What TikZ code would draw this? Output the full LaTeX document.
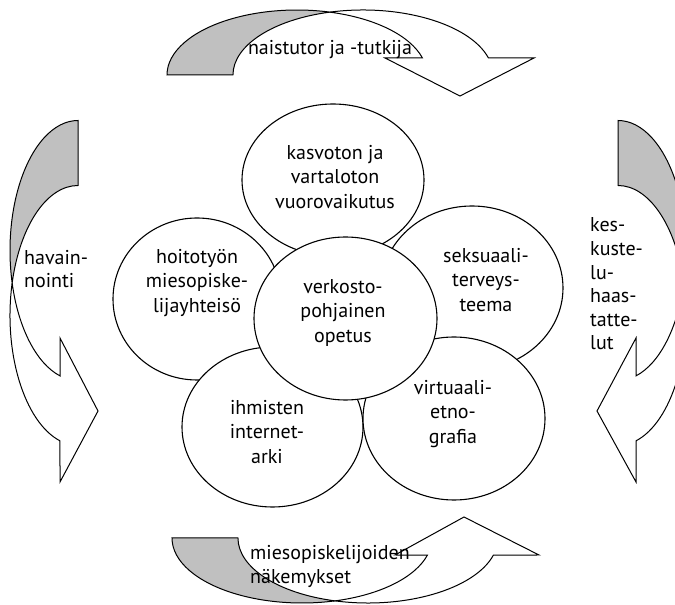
\documentclass[tikz,border=0pt]{standalone}
\usepackage{fontspec}
\setmainfont{PT Sans}
\definecolor{backgray}{RGB}{192,192,192}
\tikzset{
  bubble/.style={draw, fill=white, line width=1.1pt},
  arrowback/.style={draw, fill=backgray, line width=1pt},
  arrowfront/.style={draw, fill=white, line width=1pt},
  bubbletext/.style={align=center, inner sep=0pt, font=\fontsize{20}{24.5}\selectfont},
  sidetext/.style={align=left, inner sep=0pt, font=\fontsize{20}{23.6}\selectfont}
}
\begin{document}
\begin{tikzpicture}[x=1pt,y=1pt]
    \clip (0,0) rectangle (675,605);

    \draw[arrowback] (167,530) arc[start angle=180, end angle=75.3, x radius=130, y radius=65]
        arc[start angle=104.7, end angle=180, x radius=130, y radius=65] -- cycle;
    \draw[arrowfront] (330,592.87) arc[start angle=104.7, end angle=15.2, x radius=130, y radius=65]
        -- (534,547) -- (460,509) -- (385,547) -- (422.45,547)
        arc[start angle=15.2, end angle=75.3, x radius=130, y radius=65] -- cycle;

    \draw[arrowback] (172,67) arc[start angle=180, end angle=284.7, x radius=130, y radius=65]
        arc[start angle=255.3, end angle=180, x radius=130, y radius=65] -- cycle;
    \draw[arrowfront] (335,4.13) arc[start angle=255.3, end angle=344.8, x radius=130, y radius=65]
        -- (539,50) -- (464,88) -- (395,50) -- (427.45,49.95)
        arc[start angle=344.8, end angle=284.7, x radius=130, y radius=65] -- cycle;

    \draw[arrowback] (78,484.5) arc[start angle=90, end angle=194.48, x radius=68, y radius=130]
        arc[start angle=165.52, end angle=90, x radius=68, y radius=130] -- cycle;
    \draw[arrowfront] (12.16,322) arc[start angle=165.52, end angle=254.65, x radius=68, y radius=130]
        -- (60,123) -- (98,194) -- (60,267) -- (60,229.1)
        arc[start angle=254.65, end angle=194.48, x radius=68, y radius=130] -- cycle;

    \draw[arrowback] (618,484.5) arc[start angle=90, end angle=-14.48, x radius=68, y radius=130]
        arc[start angle=14.48, end angle=90, x radius=68, y radius=130] -- cycle;
    \draw[arrowfront] (683.84,322) arc[start angle=14.48, end angle=-74.65, x radius=68, y radius=130]
        -- (636,123) -- (597,194) -- (636,267) -- (636,229.1)
        arc[start angle=-74.65, end angle=-14.48, x radius=68, y radius=130] -- cycle;

    \draw[bubble] (197,306) ellipse [x radius=84, y radius=81];
    \draw[bubble] (333,425) ellipse [x radius=91, y radius=76];
    \draw[bubble] (472,317) ellipse [x radius=91, y radius=82];
    \draw[bubble] (272.5,178) ellipse [x radius=90.5, y radius=80];
    \draw[bubble] (454,186.5) ellipse [x radius=91, y radius=81.5];
    \draw[bubble] (345.5,286.5) ellipse [x radius=91.5, y radius=81.5];

    \node[bubbletext] (kasvoton) at (335,428) {kasvoton ja\\vartaloton\\vuorovaikutus};
    \node[bubbletext] (hoitotyo) at (197,322) {hoitotyön\\miesopiske-\\lijayhteisö};
    \node[bubbletext] (verkosto) at (343,292) {verkosto-\\pohjainen\\opetus};
    \node[bubbletext] (seksuaali) at (486,325) {seksuaali-\\terveys-\\teema};
    \node[bubbletext] (ihmisten) at (267,173) {ihmisten\\internet-\\arki};
    \node[bubbletext] (virtuaali) at (453,191) {virtuaali-\\etno-\\grafia};

    \node[sidetext] (naistutor) at (330,555) {naistutor ja -tutkija};
    \node[sidetext, anchor=west] (havainnointi) at (24,336) {havain-\\nointi};
    \node[sidetext, anchor=west] (keskustelu) at (590,321) {kes-\\kuste-\\lu-\\haas-\\tatte-\\lut};
    \node[sidetext, anchor=west] (miesopiskelijat) at (250,38.5) {miesopiskelijoiden\\näkemykset};

\end{tikzpicture}
\end{document}
